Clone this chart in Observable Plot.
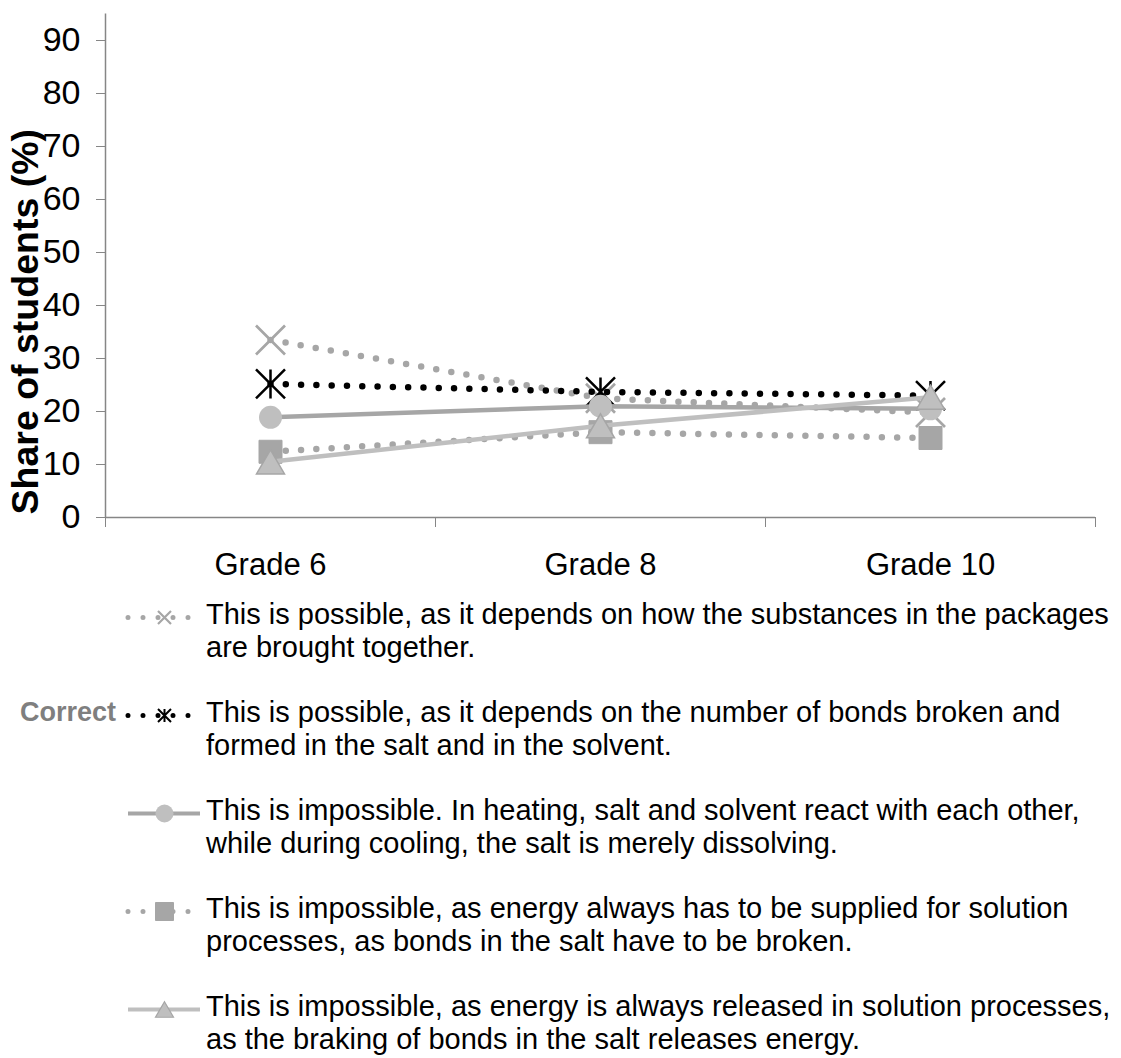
<!DOCTYPE html>
<html><head><meta charset="utf-8">
<script src="https://cdn.jsdelivr.net/npm/d3@7"></script>
<script src="https://cdn.jsdelivr.net/npm/@observablehq/plot@0.6"></script>
<style>
body{margin:0;background:#fff;font-family:"Liberation Sans",Arial,sans-serif;}
#wrap{position:relative;width:1121px;height:1058px;overflow:hidden;background:#fff;}
#chart{position:absolute;left:0;top:0;}
.entry{position:absolute;left:206px;font-size:29px;line-height:33px;color:#000;white-space:nowrap;}
.sample{position:absolute;left:128px;}
.correct{position:absolute;left:20px;font-size:27px;font-weight:bold;color:#7f7f7f;line-height:33px;}
</style></head><body><div id="wrap"><div id="chart"></div></div>
<script>
// ---- data ----
const grades = ["Grade 6", "Grade 8", "Grade 10"];
const yTicks = [0, 10, 20, 30, 40, 50, 60, 70, 80, 90];
const yLabel = "Share of students (%)";
const correctLabel = "Correct";
const legendTexts = [
  ["This is possible, as it depends on how the substances in the packages", "are brought together."],
  ["This is possible, as it depends on the number of bonds broken and", "formed in the salt and in the solvent."],
  ["This is impossible. In heating, salt and solvent react with each other,", "while during cooling, the salt is merely dissolving."],
  ["This is impossible, as energy always has to be supplied for solution", "processes, as bonds in the salt have to be broken."],
  ["This is impossible, as energy is always released in solution processes,", "as the braking of bonds in the salt releases energy."]
];
const valsBroughtTogether = [33.5, 22.5, 19.8];
const valsBondsCorrect = [25.2, 23.7, 23.0];
const valsReact = [18.9, 21.0, 20.5];
const valsSupplied = [12.4, 16.1, 15.0];
const valsReleased = [10.5, 17.3, 22.7];
const correctIndex = 1;

// ---- symbols ----
const rad = s => Math.sqrt(s / Math.PI);
const symX = {draw(c, s){const r = rad(s); c.moveTo(-r,-r); c.lineTo(r,r); c.moveTo(r,-r); c.lineTo(-r,r);}};
const symAst = {draw(c, s){const r = rad(s); c.moveTo(-r,-r); c.lineTo(r,r); c.moveTo(r,-r); c.lineTo(-r,r); c.moveTo(0,-r); c.lineTo(0,r);}};
const symCircle = {draw(c, s){const r = rad(s); c.moveTo(r,0); c.arc(0,0,r,0,2*Math.PI);}};
const symSquare = {draw(c, s){const r = rad(s); c.rect(-r,-r,2*r,2*r);}};
const symTri = {draw(c, s){const r = rad(s); c.moveTo(0,-0.86*r); c.lineTo(r,0.86*r); c.lineTo(-r,0.86*r); c.closePath();}};

const seriesVals = [valsBroughtTogether, valsBondsCorrect, valsReact, valsSupplied, valsReleased];
const styles = [
  {stroke:"#a6a6a6", sw:6.5, dash:"0 15.3", symbol:symX, r:14.5, fill:"none", mstroke:"#a6a6a6", msw:2.7, lr:6.5, lsw:5, ldash:"0 15", lmsw:2.2},
  {stroke:"#000000", sw:6.5, dash:"0 15.3", symbol:symAst, r:14.5, fill:"none", mstroke:"#000000", msw:2.5, lr:6.5, lsw:5, ldash:"0 15", lmsw:2},
  {stroke:"#a6a6a6", sw:4.5, dash:null, symbol:symCircle, r:11.5, fill:"#bfbfbf", mstroke:"none", msw:0, lr:9, lsw:4, ldash:null, lmsw:0},
  {stroke:"#a6a6a6", sw:6.5, dash:"0 15.3", symbol:symSquare, r:11.5, fill:"#a6a6a6", mstroke:"#a6a6a6", msw:1, lr:9, lsw:5, ldash:"0 15", lmsw:1},
  {stroke:"#bfbfbf", sw:4.5, dash:null, symbol:symTri, r:14, fill:"#bfbfbf", mstroke:"#a6a6a6", msw:1.5, lr:9, lsw:4, ldash:null, lmsw:1.2}
];

const W = 1121, H = 600;
const axisColor = "#868686";
const marks = [];
seriesVals.forEach((vals, k) => {
  const st = styles[k];
  const data = vals.map((v, i) => ({x: i + 0.5, y: v}));
  marks.push(Plot.line(data, {x: "x", y: "y", stroke: st.stroke, strokeWidth: st.sw,
    strokeDasharray: st.dash || undefined, strokeLinecap: st.dash ? "round" : "butt"}));
  marks.push(Plot.dot(data, {x: "x", y: "y", symbol: st.symbol, r: st.r, fill: st.fill,
    stroke: st.mstroke, strokeWidth: st.msw}));
});

const chart = Plot.plot({
  width: W, height: H,
  marginLeft: 105, marginRight: 26, marginTop: 13.5, marginBottom: 83,
  style: {fontFamily: "'Liberation Sans', Arial, sans-serif", background: "white", color: "black", overflow: "visible"},
  x: {type: "linear", domain: [0, 3]},
  y: {domain: [0, 95]},
  marks: [
    Plot.ruleX([0], {y1: 0, y2: 95, stroke: axisColor, strokeWidth: 1.5}),
    Plot.ruleY([0], {stroke: axisColor, strokeWidth: 1.5}),
    Plot.axisY({ticks: yTicks, tickSize: 9, tickPadding: 16, fontSize: 34, stroke: axisColor, fill: "black", label: null}),
    Plot.axisX({ticks: [0, 1, 2, 3], tickSize: 10, tickFormat: () => "", stroke: axisColor, label: null}),
    Plot.axisX({ticks: grades.map((g, i) => i + 0.5), tickSize: 0, tickPadding: 35, fontSize: 31, fill: "black",
      tickFormat: v => grades[Math.floor(v)], label: null}),
    ...marks,
    Plot.text([yLabel], {frameAnchor: "left", textAnchor: "middle", lineAnchor: "middle", rotate: -90, dx: -80, dy: 56,
      fontSize: 37.5, fontWeight: "bold", fill: "black"})
  ]
});
document.getElementById("chart").appendChild(chart);

// ---- legend ----
const wrap = document.getElementById("wrap");
const entryCenters = [617, 715, 813, 911, 1009];
legendTexts.forEach((lines, k) => {
  const st = styles[k];
  const Y = entryCenters[k];
  const sample = Plot.plot({
    width: 72, height: 30, margin: 0,
    x: {domain: [0, 1], axis: null}, y: {domain: [-1, 1], axis: null},
    style: {overflow: "visible", background: "transparent"},
    marks: [
      Plot.ruleY([0], {stroke: st.stroke, strokeWidth: st.lsw, strokeDasharray: st.ldash || undefined,
        strokeLinecap: st.ldash ? "round" : "butt"}),
      Plot.dot([0], {x: () => 0.5, y: () => 0, symbol: st.symbol, r: st.lr, fill: st.fill, stroke: st.mstroke, strokeWidth: st.lmsw})
    ]
  });
  const sd = document.createElement("div");
  sd.className = "sample";
  sd.style.top = (Y - 15) + "px";
  sd.appendChild(sample);
  wrap.appendChild(sd);
  const d = document.createElement("div");
  d.className = "entry";
  d.style.top = (Y - 19) + "px";
  d.innerHTML = lines.join("<br>");
  wrap.appendChild(d);
  if (k === correctIndex) {
    const c = document.createElement("div");
    c.className = "correct";
    c.style.top = (Y - 19) + "px";
    c.textContent = correctLabel;
    wrap.appendChild(c);
  }
});
</script></body></html>
